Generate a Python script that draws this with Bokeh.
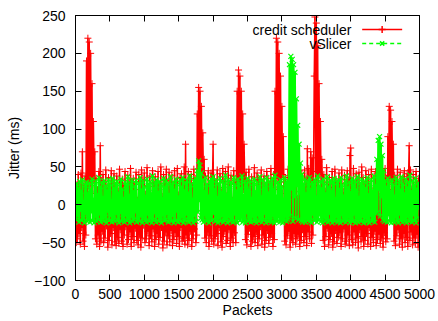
from bokeh.plotting import figure
from bokeh.models import Range1d, LinearAxis, FixedTicker, Label
from bokeh.embed import file_html
from bokeh.resources import INLINE

# ---------------- data ----------------
STEP = 10  # packets between consecutive samples

credit_scheduler = [
    30, -50, 15, -45, 40, -38, 8, -52, 42, -30, 70, -48, 25, -55, 38, -40, 190, 10, 220, 25,
    215, 5, 200, 30, 160, 15, 110, 35, 70, -45, 35, -52, 20, -40, 44, -55, 78, -48, 32, -35,
    40, -50, 5, -44, 46, -28, 22, -56, 36, -47, 12, -38, 45, -53, 28, -30, 41, -49, 0, -54,
    38, -43, 18, -51, 47, -33, 9, -48, 34, -55, 25, -40, 44, -29, 15, -52, 39, -46, 30, -36,
    48, -55, 10, -42, 35, -50, 27, -31, 43, -47, 6, -53, 40, -39, 20, -56, 46, -44, 33, -27,
    42, -50, 14, -45, 49, -35, 24, -54, 38, -41, 8, -49, 45, -32, 29, -55, 37, -46, 18, -38,
    44, -52, 26, -43, 50, -30, 11, -57, 40, -48, 32, -36, 47, -53, 16, -41, 43, -49, 22, -34,
    39, -54, 7, -46, 45, -37, 28, -51, 48, -42, 13, -55, 36, -30, 41, -48, 19, -44, 50, -52,
    80, -40, 30, -53, 44, -47, 12, -35, 40, -55, 25, -45, 47, -32, 35, -50, -40, 120, 20, 155,
    10, 150, 30, 130, 15, 95, 35, 60, -44, 38, -50, 20, -36, 45, -55, 15, -41, 42, -48, 28,
    80, -52, 34, -45, 8, -38, 46, -54, 23, -30, 41, -49, 17, -56, 48, -42, 31, -35, 44, -51,
    12, -47, 50, -33, 27, -55, 39, -44, 6, -50, 45, -37, 30, -50, 45, 150, 10, 178, 25, 170,
    5, 150, 30, 120, 20, 80, 35, -46, 43, -53, 21, -39, 47, -31, 14, -55, 37, -48, 26, -42,
    49, -50, 10, -36, 42, -54, 33, -45, 18, -29, 46, -52, 24, -40, 38, -56, 7, -47, 44, -34,
    35, -51, 20, -43, 48, -38, 13, -55, 40, -46, 150, 20, 220, 35, 215, 10, 200, 30, 170, 15,
    130, 40, 90, 25, -48, 36, -53, 22, -41, 47, -35, 11, -56, 39, -44, 28, -50, 16, -38, 43,
    -52, 30, -45, 8, -39, 45, -55, 25, -47, 41, -33, 19, -50, 46, -42, 34, -54, 74, -36, 48,
    -45, 15, 70, -51, 62, -40, 44, 170, 248, 30, 240, 10, 210, 25, 160, 40, 110, 15, 60, 30,
    -47, 40, -55, 18, -42, 49, -31, 27, -53, 36, -46, 12, -38, 44, -56, 23, -49, 47, -34, 31,
    -51, 9, -43, 42, -37, 28, -55, 46, -45, 16, -32, 39, -52, 21, -48, 45, -40, 33, -54, 65,
    75, -46, 30, -53, 48, -36, 14, -50, 41, -44, 26, -57, 43, -33, 19, -49, 50, -42, 36, -55,
    8, -47, 45, -38, 31, -52, 40, -30, 22, -55, 47, -43, 15, -50, 38, -35, 44, -54, 27, -46,
    42, -39, 11, -51, 46, -44, 33, -56, 20, -37, 48, -49, 35, -45, 90, 20, 130, 35, 125, 10,
    110, 30, 80, -48, 39, -54, 24, -41, 47, -33, 13, -52, 43, -45, 29, -56, 37, -38, 45, -50,
    18, -43, 41, -55, 32, 78, -47, 46, -36, 21, -53, 40, -44, 10, -51, 44, -39, 27, -56, 35,
]

vslicer = [
    12, -20, 28, -15, 22, -23, 31, -8, 18, -21, 33, -18, 5, -24, 26, -12, 30, -22, 15, -19,
    29, -23, 20, -10, 34, -21, 8, -24, 27, -16, 31, -22, 14, -20, 36, -13, 24, -23, 30, -18,
    10, -22, 32, -17, 25, -24, 19, -9, 33, -21, 28, -15, 6, -23, 35, -19, 22, -22, 29, -12,
    31, -20, 16, -24, 27, -11, 34, -22, 21, -18, 9, -23, 30, -14, 26, -21, 37, -19, 13, -24,
    28, -16, 33, -22, 18, -20, 25, -10, 32, -23, 7, -19, 29, -22, 36, -15, 20, -24, 31, -17,
    24, -21, 12, -23, 34, -13, 27, -22, 30, -18, 15, -24, 38, -20, 22, -11, 29, -23, 33, -16,
    17, -22, 31, -19, 26, -24, 9, -14, 35, -21, 23, -20, 32, -12, 28, -23, 14, -18, 37, -22,
    25, -15, 30, -24, 20, -21, 34, -9, 27, -23, 11, -19, 33, -22, 24, -16, 36, -24, 19, -20,
    29, -13, 32, -22, 16, -23, 38, -18, 26, -21, 8, -24, 31, -15, 35, -22, 22, 45, -10, 58,
    5, 52, -18, 42, -20, 33, -23, 18, -14, 36, -22, 27, -19, 12, -24, 30, -17, 34, -21, 23,
    37, -12, 21, -22, 32, -20, 10, -24, 28, -18, 35, -22, 17, -15, 31, -23, 26, -21, 39, -19,
    14, -24, 33, -16, 24, -22, 30, -20, 8, -23, 36, -13, 27, -22, 19, -24, 34, -18, 29, -21,
    22, -17, 38, -23, 13, -20, 31, -24, 26, -11, 35, -22, 20, -19, 32, -23, 9, -16, 28, -22,
    34, -21, 18, -24, 30, -14, 25, -22, 37, -19, 11, -23, 33, -20, 23, -12, 29, -24, 36, -18,
    16, -22, 31, -21, 27, -23, 35, -15, 21, -24, 39, -20, 12, -22, 30, -17, 26, -23, 33, -19,
    24, -24, 8, -21, 36, -16, 29, -22, 32, -20, 18, 185, -15, 196, 20, 192, -22, 185, 10, 175,
    -18, 140, 25, 105, -20, 80, 15, 55, -21, 40, -23, 28, -19, 34, -23, 15, -18, 31, -21, 24,
    36, -22, 19, -24, 30, -13, 27, -21, 33, -19, 11, -23, 38, -20, 25, -14, 31, -22, 22, -24,
    34, -17, 28, -22, 15, -20, 37, -23, 24, -12, 32, -21, 18, -24, 30, -19, 35, -22, 9, -16,
    29, -23, 33, -20, 21, -24, 36, -14, 26, -22, 12, -19, 31, -23, 38, -21, 23, -17, 30, -24,
    17, -21, 35, -22, 27, -13, 32, -24, 20, -19, 37, -23, 10, -20, 29, -22, 34, -16, 25, -24,
    31, -18, 22, -23, 36, -21, 14, -24, 28, -15, 33, -22, 19, -20, 38, -23, 26, -12, 60, -10,
    85, 20, 90, -15, 80, 10, 65, -20, 45, -22, 32, -19, 24, -23, 35, -14, 29, -22, 18, -24,
    33, -20, 27, -23, 12, -17, 36, -22, 25, -24, 31, -13, 20, -21, 37, -23, 28, -19, 15, -22,
    34, -24, 23, -16, 30, -22, 39, -20, 18, -23, 32, -14, 26, -21, 35, -24, 21, -18, 29, -5,
]

packets_red = list(range(0, STEP * len(credit_scheduler), STEP))
packets_green = list(range(0, STEP * len(vslicer), STEP))

series_names = ["credit scheduler", "vSlicer"]
x_ticks = [0, 500, 1000, 1500, 2000, 2500, 3000, 3500, 4000, 4500, 5000]
y_ticks = [-100, -50, 0, 50, 100, 150, 200, 250]
x_title = "Packets"
y_title = "Jitter (ms)"

# ---------------- styling / layout ----------------
FONT = "Liberation Sans"
FS = "14px"
RED = "#ff0000"
GREEN = "#00ff00"

p = figure(width=438, height=321,
           x_range=Range1d(0, 5000), y_range=Range1d(-100, 250),
           output_backend="svg", toolbar_location=None,
           min_border_left=75, min_border_right=19,
           min_border_top=15, min_border_bottom=41)
p.background_fill_color = "white"
p.border_fill_color = "white"
p.outline_line_color = "black"
p.outline_line_width = 1
p.xgrid.visible = False
p.ygrid.visible = False

def style_axis(ax, ticks, show_labels, standoff):
    ax.ticker = FixedTicker(ticks=ticks)
    ax.major_tick_in = 6
    ax.major_tick_out = 0
    ax.minor_tick_line_color = None
    ax.axis_line_color = "black"
    ax.major_tick_line_color = "black"
    ax.major_label_standoff = standoff
    ax.major_label_text_font = FONT
    if show_labels:
        ax.major_label_text_color = "black"
        ax.major_label_text_font_size = FS
    else:
        ax.major_label_text_color = None
        ax.major_label_text_font_size = "0px"

style_axis(p.xaxis[0], x_ticks, True, 8)
style_axis(p.yaxis[0], y_ticks, True, 10)

for ax, title, st in ((p.xaxis[0], x_title, 0), (p.yaxis[0], y_title, 9)):
    ax.axis_label = title
    ax.axis_label_text_font = FONT
    ax.axis_label_text_font_size = FS
    ax.axis_label_text_font_style = "normal"
    ax.axis_label_text_color = "black"
    ax.axis_label_standoff = st

top_ax = LinearAxis()
style_axis(top_ax, x_ticks, False, 0)
p.add_layout(top_ax, "above")
right_ax = LinearAxis()
style_axis(right_ax, y_ticks, False, 0)
p.add_layout(right_ax, "right")

# data series (gnuplot "linespoints")
p.line(packets_red, credit_scheduler, line_color=RED, line_width=1.5)
p.scatter(packets_red, credit_scheduler, marker="cross", size=7,
          line_color=RED, line_width=1)
p.line(packets_green, vslicer, line_color=GREEN, line_width=2)
p.scatter(packets_green, vslicer, marker="x", size=7,
          line_color=GREEN, line_width=1.2)

# legend (gnuplot style: text right-aligned, sample to its right)
LEG_TEXT_X = 4010
LEG_ROWS_Y = [231.5, 213.0]
LEG_X0, LEG_X1, LEG_XM = 4167, 4748, 4457
styles = [dict(color=RED, dash="solid", marker="cross", size=7),
          dict(color=GREEN, dash="4 3", marker="x", size=6)]
for name, ly, st in zip(series_names, LEG_ROWS_Y, styles):
    p.add_layout(Label(x=LEG_TEXT_X, y=ly, text=name, text_align="right",
                       text_baseline="middle", text_font=FONT,
                       text_font_size=FS, text_color="black"))
    p.line([LEG_X0, LEG_X1], [ly, ly], line_color=st["color"], line_width=1.5,
           line_dash=st["dash"])
    p.scatter([LEG_XM], [ly], marker=st["marker"], size=st["size"],
              line_color=st["color"], line_width=1.5)

open("out.html", "w").write(file_html(p, INLINE))
